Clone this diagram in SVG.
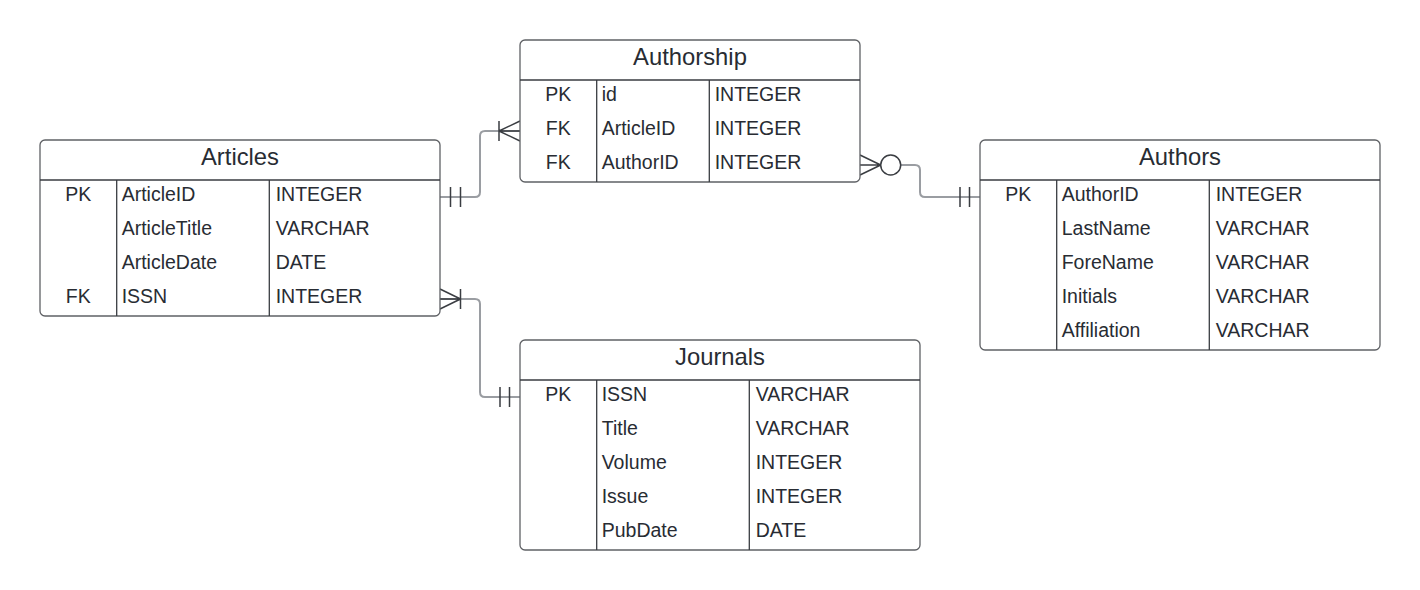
<svg xmlns="http://www.w3.org/2000/svg" width="1420" height="590" viewBox="0 0 1420 590">
<style>
.box{fill:#ffffff;stroke:#5f6165;stroke-width:1.3}
.div{stroke:#3a3d42;stroke-width:1.3;fill:none}
.hd{font-family:"Liberation Sans",Arial,sans-serif;font-size:23.8px;fill:#282c33;text-anchor:middle}
.t{font-family:"Liberation Sans",Arial,sans-serif;font-size:19.5px;fill:#282c33}
.k{text-anchor:middle}
.con{fill:none;stroke:#9a9da2;stroke-width:2}
.mk{fill:none;stroke:#3a3d42;stroke-width:1.5}
</style>
<rect width="1420" height="590" fill="#ffffff"/>
<g id="connectors">
<path class="con" d="M440,197 H475 Q480,197 480,192 V136 Q480,131 485,131 H520"/>
<path class="con" d="M900.7,165 H915 Q920,165 920,170 V192 Q920,197 925,197 H980"/>
<path class="con" d="M440,299 H475 Q480,299 480,304 V392 Q480,397 485,397 H520"/>
<path class="mk" d="M450.5,187 V207 M460.5,187 V207"/>
<path class="mk" d="M499,121 V141 M499,131 H520 M499,131 L520,121 M499,131 L520,141"/>
<path class="mk" d="M880.7,165 L860,155 M880.7,165 H860 M880.7,165 L860,175"/>
<circle class="mk" cx="890.7" cy="165" r="10" fill="#ffffff"/>
<path class="mk" d="M960,187 V207 M969.5,187 V207"/>
<path class="mk" d="M460.5,289 V309 M460.5,299 H440 M460.5,299 L440,289 M460.5,299 L440,309"/>
<path class="mk" d="M500,387 V407 M509.5,387 V407"/>
</g>
<g id="articles">
<rect class="box" x="40" y="140" width="400" height="176" rx="5"/>
<path class="div" d="M40,180 H440 M116.7,180 V316 M269.3,180 V316"/>
<text class="hd" x="240" y="165">Articles</text>
<text class="t k" x="78.3" y="201">PK</text>
<text class="t" x="121.7" y="201">ArticleID</text>
<text class="t" x="275.7" y="201">INTEGER</text>
<text class="t" x="121.7" y="235">ArticleTitle</text>
<text class="t" x="275.7" y="235">VARCHAR</text>
<text class="t" x="121.7" y="269">ArticleDate</text>
<text class="t" x="275.7" y="269">DATE</text>
<text class="t k" x="78.3" y="303">FK</text>
<text class="t" x="121.7" y="303">ISSN</text>
<text class="t" x="275.7" y="303">INTEGER</text>
</g>
<g id="authorship">
<rect class="box" x="520" y="40" width="340" height="142" rx="5"/>
<path class="div" d="M520,80 H860 M596.7,80 V182 M709.3,80 V182"/>
<text class="hd" x="690" y="64.5">Authorship</text>
<text class="t k" x="558.3" y="101">PK</text>
<text class="t" x="601.7" y="101">id</text>
<text class="t" x="714.7" y="101">INTEGER</text>
<text class="t k" x="558.3" y="135">FK</text>
<text class="t" x="601.7" y="135">ArticleID</text>
<text class="t" x="714.7" y="135">INTEGER</text>
<text class="t k" x="558.3" y="169">FK</text>
<text class="t" x="601.7" y="169">AuthorID</text>
<text class="t" x="714.7" y="169">INTEGER</text>
</g>
<g id="authors">
<rect class="box" x="980" y="140" width="400" height="210" rx="5"/>
<path class="div" d="M980,180 H1380 M1056.7,180 V350 M1209.3,180 V350"/>
<text class="hd" x="1180" y="165">Authors</text>
<text class="t k" x="1018.3" y="201">PK</text>
<text class="t" x="1061.7" y="201">AuthorID</text>
<text class="t" x="1215.7" y="201">INTEGER</text>
<text class="t" x="1061.7" y="235">LastName</text>
<text class="t" x="1215.7" y="235">VARCHAR</text>
<text class="t" x="1061.7" y="269">ForeName</text>
<text class="t" x="1215.7" y="269">VARCHAR</text>
<text class="t" x="1061.7" y="303">Initials</text>
<text class="t" x="1215.7" y="303">VARCHAR</text>
<text class="t" x="1061.7" y="337">Affiliation</text>
<text class="t" x="1215.7" y="337">VARCHAR</text>
</g>
<g id="journals">
<rect class="box" x="520" y="340" width="400" height="210" rx="5"/>
<path class="div" d="M520,380 H920 M596.7,380 V550 M749.3,380 V550"/>
<text class="hd" x="720" y="365">Journals</text>
<text class="t k" x="558.3" y="401">PK</text>
<text class="t" x="601.7" y="401">ISSN</text>
<text class="t" x="755.7" y="401">VARCHAR</text>
<text class="t" x="601.7" y="435">Title</text>
<text class="t" x="755.7" y="435">VARCHAR</text>
<text class="t" x="601.7" y="469">Volume</text>
<text class="t" x="755.7" y="469">INTEGER</text>
<text class="t" x="601.7" y="503">Issue</text>
<text class="t" x="755.7" y="503">INTEGER</text>
<text class="t" x="601.7" y="537">PubDate</text>
<text class="t" x="755.7" y="537">DATE</text>
</g>
</svg>
